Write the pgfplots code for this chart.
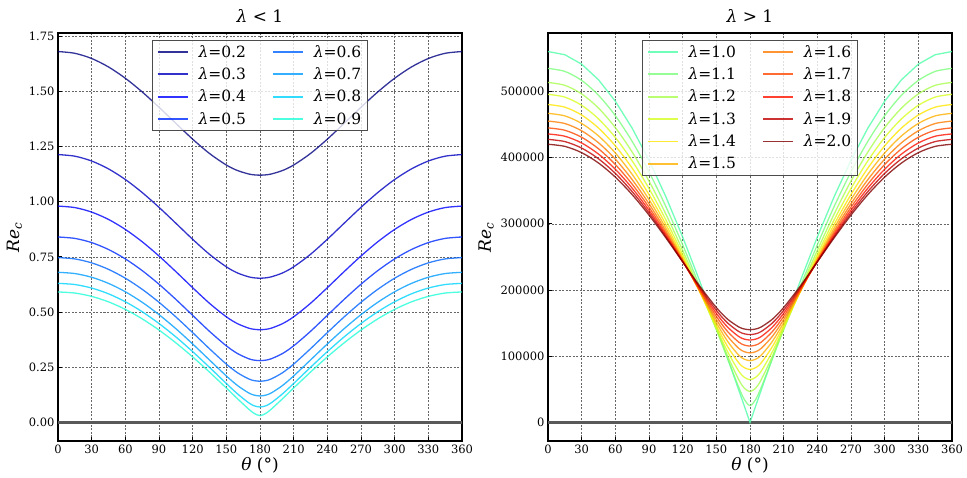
\documentclass[border=0pt]{standalone}
\usepackage{pgfplots}
\pgfplotsset{compat=1.18}
\usepackage{pgfplotstable}
\usepackage{fontspec}
\setmainfont{DejaVu Serif}

\definecolor{c02}{rgb}{0,0,0.5}
\definecolor{c03}{rgb}{0,0,0.75}
\definecolor{c04}{rgb}{0,0,1}
\definecolor{c05}{rgb}{0,0.167,1}
\definecolor{c06}{rgb}{0,0.389,1}
\definecolor{c07}{rgb}{0,0.611,1}
\definecolor{c08}{rgb}{0,0.833,1}
\definecolor{c09}{rgb}{0.125,1,0.842}
\definecolor{c10}{rgb}{0.305,1,0.663}
\definecolor{c11}{rgb}{0.484,1,0.484}
\definecolor{c12}{rgb}{0.663,1,0.305}
\definecolor{c13}{rgb}{0.842,1,0.125}
\definecolor{c14}{rgb}{1,0.901,0}
\definecolor{c15}{rgb}{1,0.696,0}
\definecolor{c16}{rgb}{1,0.486,0}
\definecolor{c17}{rgb}{1,0.278,0}
\definecolor{c18}{rgb}{1,0.07,0}
\definecolor{c19}{rgb}{0.753,0,0}
\definecolor{c20}{rgb}{0.5,0,0}

\pgfplotstableread{
th l2 l3 l4 l5 l6 l7 l8 l9
0 1.6800 1.2133 0.9800 0.8400 0.7467 0.6800 0.6300 0.5911
15 1.6720 1.2060 0.9732 0.8336 0.7407 0.6744 0.6247 0.5861
30 1.6484 1.1841 0.9528 0.8146 0.7228 0.6576 0.6088 0.5710
45 1.6102 1.1485 0.9196 0.7834 0.6935 0.6299 0.5827 0.5463
60 1.5590 1.1004 0.8743 0.7408 0.6533 0.5920 0.5467 0.5122
75 1.4971 1.0415 0.8185 0.6879 0.6032 0.5444 0.5016 0.4693
90 1.4277 0.9744 0.7539 0.6261 0.5442 0.4883 0.4482 0.4186
105 1.3548 0.9024 0.6833 0.5575 0.4781 0.4248 0.3875 0.3607
120 1.2831 0.8296 0.6103 0.4850 0.4068 0.3555 0.3208 0.2968
135 1.2182 0.7615 0.5396 0.4126 0.3338 0.2829 0.2496 0.2280
150 1.1660 0.7049 0.4785 0.3470 0.2643 0.2107 0.1765 0.1559
160 1.1409 0.6770 0.4473 0.3120 0.2250 0.1671 0.1293 0.1071
170 1.1253 0.6594 0.4270 0.2884 0.1970 0.1334 0.0888 0.0601
175 1.1213 0.6549 0.4218 0.2821 0.1893 0.1235 0.0751 0.0404
180 1.1200 0.6533 0.4200 0.2800 0.1867 0.1200 0.0700 0.0311
185 1.1213 0.6549 0.4218 0.2821 0.1893 0.1235 0.0751 0.0404
190 1.1253 0.6594 0.4270 0.2884 0.1970 0.1334 0.0888 0.0601
200 1.1409 0.6770 0.4473 0.3120 0.2250 0.1671 0.1293 0.1071
210 1.1660 0.7049 0.4785 0.3470 0.2643 0.2107 0.1765 0.1559
225 1.2182 0.7615 0.5396 0.4126 0.3338 0.2829 0.2496 0.2280
240 1.2831 0.8296 0.6103 0.4850 0.4068 0.3555 0.3208 0.2968
255 1.3548 0.9024 0.6833 0.5575 0.4781 0.4248 0.3875 0.3607
270 1.4277 0.9744 0.7539 0.6261 0.5442 0.4883 0.4482 0.4186
285 1.4971 1.0415 0.8185 0.6879 0.6032 0.5444 0.5016 0.4693
300 1.5590 1.1004 0.8743 0.7408 0.6533 0.5920 0.5467 0.5122
315 1.6102 1.1485 0.9196 0.7834 0.6935 0.6299 0.5827 0.5463
330 1.6484 1.1841 0.9528 0.8146 0.7228 0.6576 0.6088 0.5710
345 1.6720 1.2060 0.9732 0.8336 0.7407 0.6744 0.6247 0.5861
360 1.6800 1.2133 0.9800 0.8400 0.7467 0.6800 0.6300 0.5911
}\lefttab

\pgfplotstableread{
th r10 r11 r12 r13 r14 r15 r16 r17 r18 r19 r20
0 560000 534545 513333 495385 480000 466667 455000 444706 435556 427368 420000
15 555209 529984 508978 491218 476008 462834 451315 441157 432135 424066 416808
30 540918 516373 495989 478800 464106 451413 440336 430587 421946 414232 407305
45 517373 493951 474594 458343 444517 432620 422282 413218 405208 398087 391709
60 484974 463106 445172 430231 417612 406832 397524 389416 382301 376006 370405
75 444278 424365 408246 394979 383911 374567 366593 359722 353758 348536 343935
90 395980 378409 364479 353256 344092 336518 330190 324850 320309 316414 313050
105 340906 326038 314684 305897 299020 293580 289240 285754 282934 280638 278763
120 280000 268181 259832 253935 249799 246938 245000 243743 242987 242600 242487
135 214303 205909 201121 198752 197999 198313 199321 200768 202488 204361 206307
150 144939 140518 140300 142598 146306 150718 155417 160157 164794 169254 173505
160 97243 96146 100290 107002 114694 122536 130136 137315 144012 150228 155974
170 48807 53043 64520 77510 90009 101486 111866 121218 129654 137276 144192
175 24427 34501 51719 68074 82620 95441 106761 116808 125770 133812 141061
180 0 25455 46667 64615 80000 93333 105000 115294 124444 132632 140000
185 24427 34501 51719 68074 82620 95441 106761 116808 125770 133812 141061
190 48807 53043 64520 77510 90009 101486 111866 121218 129654 137276 144192
200 97243 96146 100290 107002 114694 122536 130136 137315 144012 150228 155974
210 144939 140518 140300 142598 146306 150718 155417 160157 164794 169254 173505
225 214303 205909 201121 198752 197999 198313 199321 200768 202488 204361 206307
240 280000 268181 259832 253935 249799 246938 245000 243743 242987 242600 242487
255 340906 326038 314684 305897 299020 293580 289240 285754 282934 280638 278763
270 395980 378409 364479 353256 344092 336518 330190 324850 320309 316414 313050
285 444278 424365 408246 394979 383911 374567 366593 359722 353758 348536 343935
300 484974 463106 445172 430231 417612 406832 397524 389416 382301 376006 370405
315 517373 493951 474594 458343 444517 432620 422282 413218 405208 398087 391709
330 540918 516373 495989 478800 464106 451413 440336 430587 421946 414232 407305
345 555209 529984 508978 491218 476008 462834 451315 441157 432135 424066 416808
360 560000 534545 513333 495385 480000 466667 455000 444706 435556 427368 420000
}\righttab

\newcommand{\lam}{{\itshape λ}}
\newcommand{\tickfont}{\fontsize{11.5}{13}\selectfont}

\pgfplotsset{
  myax/.style={
    scale only axis, width=404pt, height=408pt,
    xmin=0, xmax=360, xtick={0,30,...,360},
    grid=major,
    grid style={black!60, dash pattern=on 2pt off 1.5pt, line width=0.45pt},
    tick align=inside, xtick pos=bottom, ytick pos=left,
    major tick length=4pt,
    tick style={black, line width=0.8pt},
    axis line style={black, line width=1.1pt},
    tick label style={font=\tickfont},
    xticklabel style={font=\tickfont},
    /pgf/number format/assume math mode=true,
    xlabel={{\itshape θ} (°)},
    xlabel style={font=\fontsize{17}{19}\selectfont, yshift=3pt},
    ylabel={\textit{Re\textsubscript{c}}},
    ylabel style={font=\fontsize{17}{19}\selectfont},
    title style={font=\fontsize{17}{19}\selectfont, yshift=1pt},
    every axis plot/.append style={line width=1.3pt, opacity=0.8},
    legend image code/.code={\draw[#1] (0pt,0pt) -- (30pt,0pt);},
    legend style={at={(0.5,0.983)}, anchor=north, draw=black!70,
      line width=0.8pt, fill=white, fill opacity=0.8, text opacity=1,
      font=\fontsize{15.5}{17}\selectfont, inner xsep=4pt, inner ysep=3pt,
      row sep=5pt,
      /tikz/every odd column/.append style={column sep=8pt},
      /tikz/every even column/.append style={column sep=24pt}},
    legend cell align=left,
    legend columns=2,
  },
  lg/.style={line width=1.8pt, opacity=0.8},
}

\begin{document}
\begin{tikzpicture}
\path[use as bounding box] (0,0) rectangle (967pt,478pt);
\begin{axis}[myax, at={(58pt,37pt)}, anchor=south west,
  ymin=-0.084, ymax=1.764, ytick={0,0.25,...,1.75},
  yticklabel style={font=\tickfont, /pgf/number format/.cd, fixed, fixed zerofill, precision=2},
  title={\lam{} < 1}]
\addplot[black!65, line width=2.4pt, opacity=1, forget plot] coordinates {(0,0) (360,0)};
\addplot[c02, smooth, forget plot] table[x=th,y=l2]{\lefttab};
\addplot[c03, smooth, forget plot] table[x=th,y=l3]{\lefttab};
\addplot[c04, smooth, forget plot] table[x=th,y=l4]{\lefttab};
\addplot[c05, smooth, forget plot] table[x=th,y=l5]{\lefttab};
\addplot[c06, smooth, forget plot] table[x=th,y=l6]{\lefttab};
\addplot[c07, smooth, forget plot] table[x=th,y=l7]{\lefttab};
\addplot[c08, smooth, forget plot] table[x=th,y=l8]{\lefttab};
\addplot[c09, smooth, forget plot] table[x=th,y=l9]{\lefttab};
\addlegendimage{c02, lg}\addlegendentry{\lam=0.2}
\addlegendimage{c06, lg}\addlegendentry{\lam=0.6}
\addlegendimage{c03, lg}\addlegendentry{\lam=0.3}
\addlegendimage{c07, lg}\addlegendentry{\lam=0.7}
\addlegendimage{c04, lg}\addlegendentry{\lam=0.4}
\addlegendimage{c08, lg}\addlegendentry{\lam=0.8}
\addlegendimage{c05, lg}\addlegendentry{\lam=0.5}
\addlegendimage{c09, lg}\addlegendentry{\lam=0.9}
\node[anchor=south west, inner sep=0pt, font=\tickfont] at (rel axis cs:0,1) [yshift=1.5pt] {1e6};
\end{axis}
\begin{axis}[myax, at={(548pt,37pt)}, anchor=south west,
  ymin=-28000, ymax=588000, ytick={0,100000,...,500000},
  scaled y ticks=false,
  yticklabel style={font=\tickfont, /pgf/number format/.cd, fixed, set thousands separator={}},
  title={\lam{} > 1}]
\addplot[black!65, line width=2.4pt, opacity=1, forget plot] coordinates {(0,0) (360,0)};
\addplot[c10, forget plot] table[x=th,y=r10]{\righttab};
\addplot[c11, smooth, forget plot] table[x=th,y=r11]{\righttab};
\addplot[c12, smooth, forget plot] table[x=th,y=r12]{\righttab};
\addplot[c13, smooth, forget plot] table[x=th,y=r13]{\righttab};
\addplot[c14, smooth, forget plot] table[x=th,y=r14]{\righttab};
\addplot[c15, smooth, forget plot] table[x=th,y=r15]{\righttab};
\addplot[c16, smooth, forget plot] table[x=th,y=r16]{\righttab};
\addplot[c17, smooth, forget plot] table[x=th,y=r17]{\righttab};
\addplot[c18, smooth, forget plot] table[x=th,y=r18]{\righttab};
\addplot[c19, smooth, forget plot] table[x=th,y=r19]{\righttab};
\addplot[c20, smooth, forget plot] table[x=th,y=r20]{\righttab};
\addlegendimage{c10, lg}\addlegendentry{\lam=1.0}
\addlegendimage{c16, lg}\addlegendentry{\lam=1.6}
\addlegendimage{c11, lg}\addlegendentry{\lam=1.1}
\addlegendimage{c17, lg}\addlegendentry{\lam=1.7}
\addlegendimage{c12, lg}\addlegendentry{\lam=1.2}
\addlegendimage{c18, lg}\addlegendentry{\lam=1.8}
\addlegendimage{c13, lg}\addlegendentry{\lam=1.3}
\addlegendimage{c19, lg}\addlegendentry{\lam=1.9}
\addlegendimage{c14, lg}\addlegendentry{\lam=1.4}
\addlegendimage{c20, lg}\addlegendentry{\lam=2.0}
\addlegendimage{c15, lg}\addlegendentry{\lam=1.5}
\end{axis}
\end{tikzpicture}
\end{document}
